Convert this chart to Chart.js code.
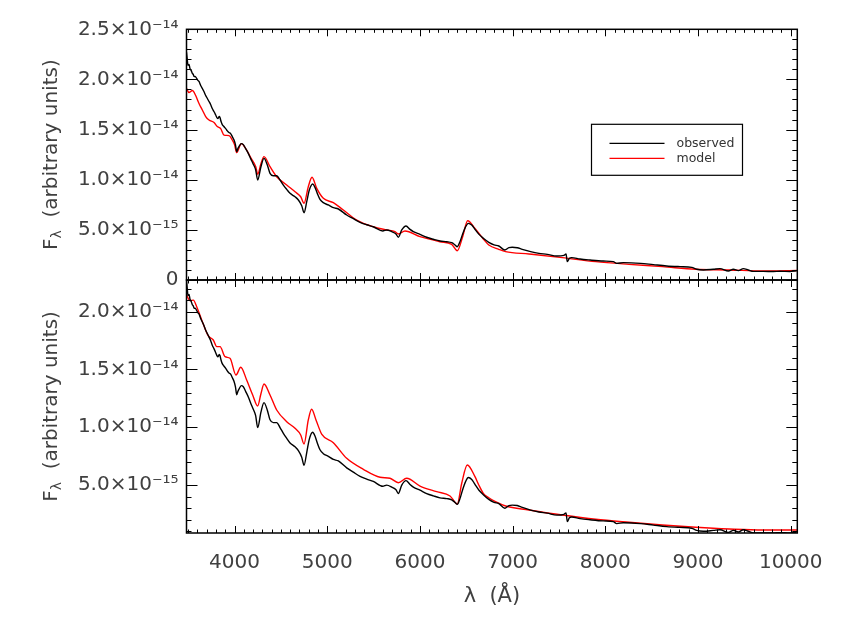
<!DOCTYPE html>
<html><head><meta charset="utf-8">
<script src="https://cdn.jsdelivr.net/npm/chart.js@4.4.0/dist/chart.umd.min.js"></script>
<style>
html,body{margin:0;padding:0;background:#fff;}
#wrap{position:relative;width:845px;height:623px;background:#fff;}
canvas{position:absolute;left:0;top:0;}
</style></head><body>
<div id="wrap"><canvas id="cBot" width="845" height="623"></canvas><canvas id="cTop" width="845" height="623"></canvas></div>
<script>
// ---------------- data (flux in units of 1e-15, wavelength in Angstrom) ----------------
const FLUX_UNIT = 1e-15;
const X_MIN = 3482, X_MAX = 10071;
const xTickValues = [4000, 5000, 6000, 7000, 8000, 9000, 10000];
const topYTickValues = [0, 5e-15, 1e-14, 1.5e-14, 2e-14, 2.5e-14];
const botYTickValues = [5e-15, 1e-14, 1.5e-14, 2e-14];
const TOP_Y_MIN = 0, TOP_Y_MAX = 2.5e-14;
const BOT_Y_MIN = 0.845e-15, BOT_Y_MAX = 2.274e-14;

const obsWave = [
 3482,3490,3498,3510,3519,3532,3545,3555,3563,3575,
 3592,3605,3617,3635,3653,3670,3689,3707,3725,3742,
 3760,3778,3797,3810,3822,3835,3843,3855,3868,3885,
 3905,3920,3940,3958,3976,3995,4010,4024,4036,4048,
 4073,4095,4120,4150,4174,4200,4228,4250,4285,4318,
 4354,4383,4419,4455,4491,4527,4563,4599,4653,4689,
 4725,4750,4779,4807,4843,4868,4893,4922,4958,5012,
 5066,5120,5210,5282,5354,5426,5497,5599,5642,5696,
 5742,5767,5804,5850,5893,5929,6001,6073,6145,6217,
 6289,6343,6379,6403,6432,6461,6490,6522,6559,6594,
 6637,6684,6743,6800,6851,6916,6960,6996,7050,7104,
 7194,7284,7374,7476,7554,7576,7590,7612,7637,7727,
 7835,7978,8086,8123,8194,8380,8518,8662,8806,8932,
 8986,9057,9165,9237,9327,9381,9435,9489,9542,9596,
 9704,9812,9884,9992,10064];
const obsFlux = [
 22.7,22.0,21.4,21.5,21.1,20.9,20.6,20.5,20.3,20.3,
 20.1,19.9,19.8,19.4,19.1,18.8,18.4,18.1,17.8,17.5,
 17.1,16.8,16.45,16.2,16.1,16.3,16.2,15.8,15.5,15.3,
 15.1,14.9,14.7,14.6,14.3,13.96,13.5,12.8,13.1,13.3,
 13.6,13.5,13.1,12.6,12.1,11.6,11.0,9.97,11.3,12.13,
 11.47,10.64,10.4,10.4,9.97,9.47,9.04,8.64,8.3,7.98,
 7.41,6.71,7.81,8.97,9.57,9.24,8.64,8.05,7.71,7.48,
 7.21,7.08,6.48,6.11,5.75,5.51,5.31,4.89,4.99,4.82,
 4.59,4.26,4.99,5.38,5.05,4.82,4.55,4.26,4.06,3.89,
 3.82,3.72,3.49,3.32,3.82,4.59,5.25,5.65,5.48,5.05,
 4.55,4.16,3.75,3.5,3.39,2.99,3.22,3.26,3.22,3.06,
 2.83,2.66,2.56,2.39,2.46,2.59,1.83,2.16,2.23,2.09,
 1.99,1.89,1.83,1.66,1.73,1.66,1.53,1.40,1.33,1.26,
 1.07,1.0,1.07,1.13,0.90,1.07,0.93,1.13,1.0,0.86,
 0.86,0.85,0.88,0.85,0.92];

const topModelWave = [
 3482,3509,3545,3581,3617,3653,3689,3725,3779,3814,
 3851,3887,3941,3976,4000,4024,4073,4121,4175,4229,
 4250,4285,4318,4383,4455,4563,4653,4714,4750,4796,
 4836,4887,4958,5066,5174,5318,5497,5642,5731,5767,
 5839,6001,6217,6343,6403,6461,6515,6594,6684,6743,
 6851,6924,7176,7536,7896,8255,8615,8975,9335,9704,
 10071];
const topModelFlux = [
 19.1,18.7,18.9,18.4,17.6,16.95,16.3,15.95,15.7,15.3,
 15.1,14.45,14.4,13.96,13.5,12.7,13.6,13.1,12.2,11.3,
 10.54,11.6,12.3,11.3,10.3,9.47,8.8,8.3,7.65,9.3,
 10.24,9.14,8.15,7.71,6.98,5.98,5.31,4.99,4.82,4.59,
 4.89,4.32,3.82,3.56,2.92,4.32,5.91,5.15,4.09,3.49,
 3.06,2.83,2.59,2.23,1.83,1.56,1.33,1.07,1.0,0.90,
 0.95];

const botModelWave = [
 3482,3520,3556,3592,3646,3717,3771,3808,3844,3898,
 3951,4016,4067,4131,4196,4250,4285,4318,4383,4455,
 4563,4653,4714,4750,4796,4832,4879,4940,5066,5210,
 5390,5570,5677,5767,5857,6001,6181,6325,6403,6451,
 6511,6594,6635,6684,6743,6815,6924,7176,7536,7896,
 8255,8615,8975,9335,9704,10071];
const botModelFlux = [
 21.45,20.95,21.0,20.43,19.28,17.9,17.55,16.97,16.97,16.1,
 15.97,14.52,15.19,14.09,12.79,11.84,12.9,13.74,12.79,11.49,
 10.48,9.9,9.33,8.55,10.63,11.55,10.63,9.41,8.66,7.31,
 6.36,5.67,5.58,5.2,5.58,4.91,4.42,4.05,3.36,5.15,
 6.73,5.72,5.0,4.28,3.9,3.55,3.18,2.84,2.40,2.03,
 1.77,1.54,1.34,1.19,1.10,1.10];

// ---------------- helpers ----------------
const TEXT_COLOR = '#404040';
const FONT = "'DejaVu Sans', 'Liberation Sans', sans-serif";
Chart.defaults.font.family = FONT;
Chart.defaults.color = TEXT_COLOR;

function pts(w, f) { return w.map((x, i) => ({x: x, y: f[i] * FLUX_UNIT})); }
const SUP = {'-':'\u207B','0':'\u2070','1':'\u00B9','2':'\u00B2','3':'\u00B3','4':'\u2074','5':'\u2075','6':'\u2076','7':'\u2077','8':'\u2078','9':'\u2079'};
function sci(v) {
  if (Math.abs(v) < 1e-30) return '0';
  const e = Math.floor(Math.log10(v) + 1e-9);
  const m = v / Math.pow(10, e);
  return m.toFixed(1) + '\u00D710' + String(e).split('').map(c => SUP[c]).join('');
}

// frame with inward ticks on all four sides, positions from the chart's own scales
const frameTicks = {
  id: 'frameTicks',
  afterDatasetsDraw(chart) {
    const {ctx, chartArea: a, scales: {x, y}} = chart;
    ctx.save();
    ctx.strokeStyle = '#000';
    ctx.lineWidth = 1;
    ctx.beginPath();
    const xs = 100, ys = 1e-15;
    for (let i = Math.ceil(x.min / xs - 1e-9); i <= Math.floor(x.max / xs + 1e-9); i++) {
      const px = Math.round(x.getPixelForValue(i * xs)) + 0.5;
      const len = (i % 10 === 0) ? 7 : 3.5;
      ctx.moveTo(px, a.bottom); ctx.lineTo(px, a.bottom - len);
      ctx.moveTo(px, a.top); ctx.lineTo(px, a.top + len);
    }
    for (let i = Math.ceil(y.min / ys - 1e-9); i <= Math.floor(y.max / ys + 1e-9); i++) {
      const py = Math.round(y.getPixelForValue(i * ys)) + 0.5;
      const len = (i % 5 === 0) ? 11 : 5;
      ctx.moveTo(a.left, py); ctx.lineTo(a.left + len, py);
      ctx.moveTo(a.right, py); ctx.lineTo(a.right - len, py);
    }
    ctx.stroke();
    ctx.lineWidth = 1.5;
    ctx.strokeRect(a.left, a.top, a.right - a.left, a.bottom - a.top);
    ctx.restore();
  }
};

// rotated y title  F_lambda (arbitrary units)
const yTitle = {
  id: 'yTitle',
  afterDraw(chart) {
    const {ctx, chartArea: a} = chart;
    ctx.save();
    ctx.fillStyle = TEXT_COLOR;
    ctx.textBaseline = 'alphabetic';
    const big = '20px ' + FONT, small = '14px ' + FONT;
    ctx.font = big; const wF = ctx.measureText('F').width;
    const rest = '  (arbitrary units)'; const wR = ctx.measureText(rest).width;
    ctx.font = small; const wL = ctx.measureText('\u03BB').width;
    const total = wF + wL + wR;
    ctx.translate(57, (a.top + a.bottom) / 2);
    ctx.rotate(-Math.PI / 2);
    let cx = -total / 2;
    ctx.font = big; ctx.fillText('F', cx, 0); cx += wF;
    ctx.font = small; ctx.fillText('\u03BB', cx, 4); cx += wL;
    ctx.font = big; ctx.fillText(rest, cx, 0);
    ctx.restore();
  }
};

// boxed legend inside the top panel
const boxLegend = {
  id: 'boxLegend',
  afterDraw(chart) {
    const {ctx, chartArea: a} = chart;
    const bx = a.left + 405, by = a.top + 95, bw = 151, bh = 51;
    ctx.save();
    ctx.strokeStyle = '#000'; ctx.lineWidth = 1.2;
    ctx.strokeRect(bx, by, bw, bh);
    ctx.font = '12.5px ' + FONT; ctx.textBaseline = 'middle'; ctx.fillStyle = '#333';
    chart.data.datasets.forEach((ds, i) => {
      const ly = by + 19 + i * 15;
      ctx.strokeStyle = ds.borderColor; ctx.lineWidth = 1.3;
      ctx.beginPath(); ctx.moveTo(bx + 18, ly); ctx.lineTo(bx + 73, ly); ctx.stroke();
      ctx.fillText(ds.label, bx + 85, ly);
    });
    ctx.restore();
  }
};

function dataset(label, data, color) {
  return {label, data, borderColor: color, backgroundColor: color, borderWidth: 1.4,
          pointRadius: 0, fill: false, cubicInterpolationMode: 'monotone'};
}

function yScale(min, max, tickVals) {
  return {
    type: 'linear', position: 'left', min, max,
    afterFit(s) { s.width = 186.5; },
    afterBuildTicks(s) { s.ticks = tickVals.map(v => ({value: v})); },
    grid: {display: false, drawTicks: false}, border: {display: false},
    ticks: {padding: 8, font: {size: 20}, color: TEXT_COLOR, autoSkip: false, callback: v => sci(v)}
  };
}

// ---------------- top panel ----------------
new Chart(document.getElementById('cTop'), {
  type: 'line',
  data: {datasets: [
    dataset('observed', pts(obsWave, obsFlux), '#000000'),
    dataset('model', pts(topModelWave, topModelFlux), '#ff0000')
  ]},
  options: {
    responsive: false, animation: false, events: [],
    layout: {padding: {left: 0, top: 29.3, right: 47.7, bottom: 343}},
    plugins: {legend: {display: false}, tooltip: {enabled: false}},
    scales: {
      x: {type: 'linear', min: X_MIN, max: X_MAX, display: false},
      y: yScale(TOP_Y_MIN, TOP_Y_MAX, topYTickValues)
    }
  },
  plugins: [frameTicks, yTitle, boxLegend]
});

// ---------------- bottom panel ----------------
new Chart(document.getElementById('cBot'), {
  type: 'line',
  data: {datasets: [
    dataset('observed', pts(obsWave, obsFlux), '#000000'),
    dataset('model', pts(botModelWave, botModelFlux), '#ff0000')
  ]},
  options: {
    responsive: false, animation: false, events: [],
    layout: {padding: {left: 0, top: 280, right: 47.7, bottom: 10}},
    plugins: {legend: {display: false}, tooltip: {enabled: false}},
    scales: {
      x: {
        type: 'linear', min: X_MIN, max: X_MAX,
        afterFit(s) { s.height = 80; },
        afterBuildTicks(s) { s.ticks = xTickValues.map(v => ({value: v})); },
        grid: {display: false, drawTicks: false}, border: {display: false},
        ticks: {padding: 18, font: {size: 20}, color: TEXT_COLOR, autoSkip: false, maxRotation: 0, callback: v => String(v)},
        title: {display: true, text: '\u03BB  (\u00C5)', font: {size: 21}, color: TEXT_COLOR}
      },
      y: yScale(BOT_Y_MIN, BOT_Y_MAX, botYTickValues)
    }
  },
  plugins: [frameTicks, yTitle]
});
</script></body></html>
